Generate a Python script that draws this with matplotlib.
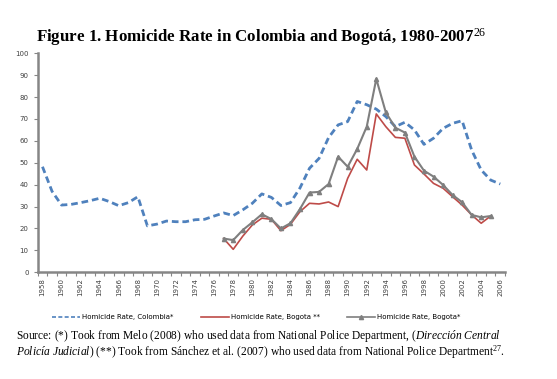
import numpy as np
import matplotlib
matplotlib.use("Agg")
import matplotlib.pyplot as plt

plt.rcParams['mathtext.fontset'] = 'custom'
plt.rcParams['mathtext.rm'] = 'Liberation Serif'
plt.rcParams['mathtext.it'] = 'Liberation Serif:italic'
plt.rcParams['mathtext.bf'] = 'Liberation Serif:bold'

# Colombia series, 1958-2006
years_col = list(range(1958, 2007))
rate_col = [48.2, 37, 30.7, 31, 31.8, 32.7, 33.8, 32.3, 30.4, 31.8,
            34.5, 21.2, 22, 23.4, 23.1, 23.1, 24, 24.2, 25.7, 27.1,
            25.9, 28.5, 31.5, 35.8, 34.2, 30.5, 31.8, 38.5, 47.5, 52,
            61.5, 67.3, 68.8, 78, 76.5, 74.5, 71.1, 66.5, 68.5, 65,
            58.4, 61.2, 65.7, 68, 69.2, 55.8, 46.7, 42.1, 40.3]

# Bogota series, 1977-2005
years_bog = list(range(1977, 2006))
rate_bog2 = [15.4, 10.5, 16.5, 21.6, 24.7, 24.2, 19, 21.9, 27.7, 31.5,
             31.2, 32.1, 30, 42.9, 51.6, 46.7, 72.3, 66.5, 61.6, 61.2,
             49, 44.9, 40.6, 38.4, 34.5, 30.7, 26.2, 22.4, 25.7]
rate_bog1 = [15.4, 14.7, 19.3, 22.8, 26.5, 24.3, 20, 22.4, 28.9, 36.4,
             36.7, 40.3, 52.8, 48.2, 56.3, 66.5, 88.3, 73, 66, 63.8,
             52.8, 46.4, 43.7, 39.9, 35.3, 32, 26.2, 25.1, 25.7]

tick_years = list(range(1958, 2007, 2))

fig = plt.figure(figsize=(5.57, 3.79), dpi=100)
ax = fig.add_axes([0.0677, 0.2815, 0.839, 0.578])

ax.plot(years_col, rate_col, color='#4F81BD', lw=2.0, ls=(0, (2.4, 1.4)),
        label='Homicide Rate, Colombia*')
ax.plot(years_bog, rate_bog2, color='#BE4B48', lw=1.2,
        label='Homicide Rate, Bogota **')
ax.plot(years_bog, rate_bog1, color='#7F7F7F', lw=1.5, marker='^', ms=3,
        label='Homicide Rate, Bogota*')

ax.set_xlim(1957.5, 2006.5)
ax.set_ylim(0, 100)
ax.set_yticks(range(0, 101, 10))
ax.set_xticks(tick_years)
ax.set_xticklabels([str(y) for y in tick_years], rotation=90)
ax.set_xticks(np.arange(1957.5, 2007, 1), minor=True)
ax.tick_params(axis='x', which='major', length=0, labelsize=5, colors='#404040', pad=4)
ax.tick_params(axis='x', which='minor', length=3, color='#868686', width=0.8)
ax.tick_params(axis='y', labelsize=5, colors='#404040', length=3, width=0.8)
ax.tick_params(axis='y', color='#868686')

for s in ['top', 'right']:
    ax.spines[s].set_visible(False)
for s in ['left', 'bottom']:
    ax.spines[s].set_color('#868686')
    ax.spines[s].set_linewidth(1.8)

leg = fig.legend(loc='center', bbox_to_anchor=(0.46, 0.163), ncol=3, frameon=False,
                 fontsize=5, handlelength=4, columnspacing=4, handletextpad=0.3)
for h in leg.get_lines():
    h.set_linewidth(1.2)

fig.text(0.065, 0.903, 'Figure 1. Homicide Rate in Colombia and Bogotá, 1980-2007$^{26}$',
         family='Liberation Serif', fontweight='bold', fontsize=12.2, va='center')

fig.text(0.028, 0.113, 'Source: (*) Took from Melo (2008) who used data from National Police Department, ($\\it{Dirección\\ Central}$',
         family='Liberation Serif', fontsize=8.3, va='center')
fig.text(0.028, 0.072, '$\\it{Policía\\ Judicial}$) (**) Took from Sánchez et al. (2007) who used data from National Police Department$^{27}$.',
         family='Liberation Serif', fontsize=8.3, va='center')

fig.savefig('out.png', dpi=100)
